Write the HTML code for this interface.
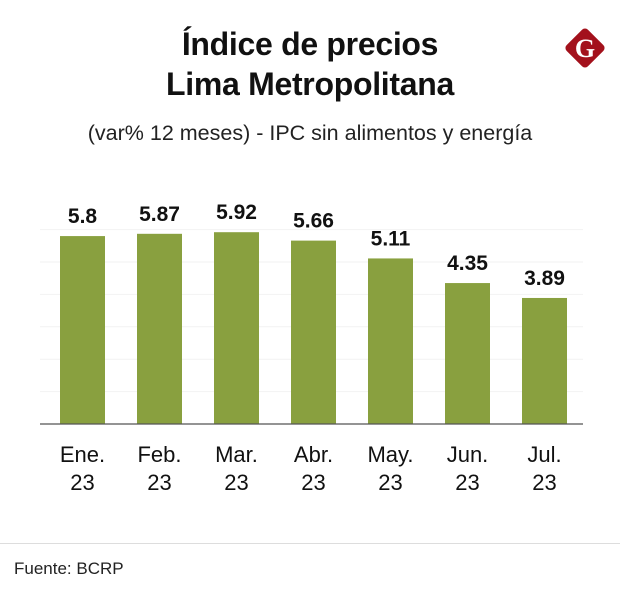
<!DOCTYPE html>
<html><head><meta charset="utf-8"><style>
body{margin:0;background:#fff;font-family:"Liberation Sans",sans-serif;}
#wrap{position:relative;width:620px;height:616px;overflow:hidden;}
.t{position:absolute;left:0;width:620px;text-align:center;color:#111;}
</style></head><body>
<div id="wrap">
<div class="t" style="top:24px;font-weight:bold;font-size:32px;line-height:40px;letter-spacing:-0.3px;">Índice de precios<br>Lima Metropolitana</div>
<svg style="position:absolute;left:560px;top:23px" width="50" height="50" viewBox="0 0 50 50"><rect x="10" y="10" width="30" height="30" rx="4" fill="#a3111c" transform="rotate(45 25 25)"/><text x="25" y="34" text-anchor="middle" font-family="Liberation Serif" font-weight="bold" font-size="26" fill="#fff">G</text></svg>
<div class="t" style="top:121px;font-size:21.5px;color:#222;">(var% 12 meses) - IPC sin alimentos y energía</div>
<svg id="chart" style="position:absolute;left:0;top:0" width="620" height="520"></svg>
<div style="position:absolute;left:0;top:543px;width:620px;height:1px;background:#ddd"></div>
<div style="position:absolute;left:14px;top:559px;font-size:17px;color:#222">Fuente: BCRP</div>
</div>
<script>
const categories=["Ene.","Feb.","Mar.","Abr.","May.","Jun.","Jul."];
const years=["23","23","23","23","23","23","23"];
const values=[5.8,5.87,5.92,5.66,5.11,4.35,3.89];
const labels=["5.8","5.87","5.92","5.66","5.11","4.35","3.89"];
const gridTicks=[1,2,3,4,5,6];
const svg=document.getElementById('chart');const NS='http://www.w3.org/2000/svg';
const base=424,scale=32.4,x0=60,step=77,bw=45;
const y=v=>base-v*scale, x=i=>x0+i*step;
function mk(t,a){const e=document.createElementNS(NS,t);for(const k in a)e.setAttribute(k,a[k]);svg.appendChild(e);return e;}
gridTicks.forEach(g=>{const l=mk('line',{x1:40,x2:583,y1:y(g),y2:y(g),stroke:'#f2f2f2','stroke-width':1});

});
values.forEach((v,i)=>{
const r=mk('rect',{x:x(i),y:y(v),width:bw,height:v*scale,fill:'#89a03f'});


const t=mk('text',{x:x(i)+bw/2,y:y(v)-13,'text-anchor':'middle','font-size':21,'font-weight':'bold',fill:'#111'});t.textContent=labels[i];


const c=mk('text',{x:x(i)+bw/2,y:462,'text-anchor':'middle','font-size':22,fill:'#111'});c.textContent=categories[i];


const c2=mk('text',{x:x(i)+bw/2,y:490,'text-anchor':'middle','font-size':22,fill:'#111'});c2.textContent=years[i];


});
const ax=mk('line',{x1:40,x2:583,y1:base,y2:base,stroke:'#555','stroke-width':1.3});


</script>
</body></html>
